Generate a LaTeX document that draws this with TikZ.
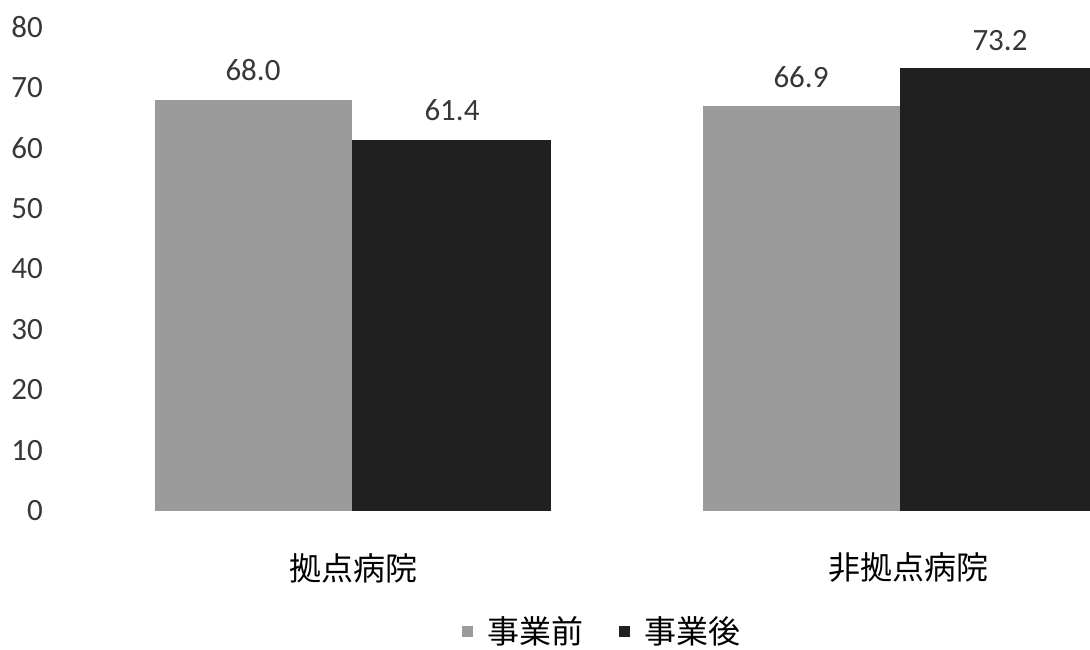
\documentclass[tikz,border=0pt]{standalone}
\usepackage{fontspec}
\setmainfont{Carlito}
\newfontfamily\jpfont{Noto Sans CJK JP}
\usetikzlibrary{positioning}
\definecolor{beforegray}{RGB}{155,155,155}
\definecolor{aftergray}{RGB}{32,32,32}
\definecolor{labelgray}{RGB}{55,55,55}
\tikzstyle{ticklab} = [anchor=east, inner sep=0pt, text=labelgray, font=\fontsize{31}{36}\selectfont]
\tikzstyle{vallab} = [anchor=south, inner sep=0pt, text=labelgray, font=\fontsize{31}{36}\selectfont]
\tikzstyle{catlab} = [inner sep=0pt, font=\jpfont\fontsize{32}{38}\selectfont]
\tikzstyle{before} = [fill=beforegray]
\tikzstyle{after} = [fill=aftergray]
\tikzstyle{legbox} = [minimum size=11pt, inner sep=0pt]

\begin{document}
\begin{tikzpicture}[x=1pt, y=-1pt]
			\useasboundingbox (0,0) rectangle (1090,649);

			%--Value Axis--%
			\foreach \v in {0,10,...,80}
				\node(tick\v)[ticklab] at (43, 511-\v*6.05) {\v};

			%--Bars--%
			\fill[before] (155,511) rectangle (352,99.6);
			\fill[after] (352,511) rectangle (551,139.5);
			\fill[before] (703,511) rectangle (900,106.3);
			\fill[after] (900,511) rectangle (1090,68.1);

			%--Value Labels--%
			\node(val1)[vallab] at (253,81) {68.0};
			\node(val2)[vallab] at (452,121) {61.4};
			\node(val3)[vallab] at (801,88) {66.9};
			\node(val4)[vallab] at (1000,51) {73.2};

			%--Category Labels--%
			\node(cat1)[catlab] at (353,568) {拠点病院};
			\node(cat2)[catlab] at (908,568) {非拠点病院};

			%--Legend--%
			\node(lgbefore)[legbox, before] at (467,631) {};
			\node(lgbeforetxt)[catlab, right=15pt of lgbefore] {事業前};
			\node(lgafter)[legbox, after] at (624,631) {};
			\node(lgaftertxt)[catlab, right=15pt of lgafter] {事業後};
		\end{tikzpicture}
\end{document}
